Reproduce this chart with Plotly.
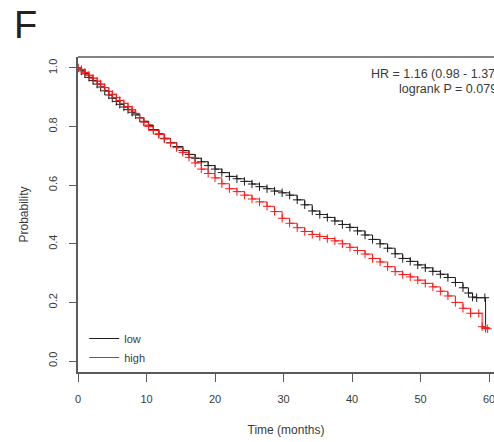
import plotly.graph_objects as go

# Kaplan-Meier estimates (time in months, survival probability)
low_time = [0, 0.5, 1.0, 1.6, 2.2, 2.8, 3.3, 3.9, 4.5, 5.0, 5.6, 6.1, 6.7, 7.3, 7.9, 8.4,
            9.0, 9.6, 10.3, 11.0, 11.8, 12.6, 13.5, 14.4, 15.3, 16.2, 17.1, 18.0, 19.0,
            20.0, 21.0, 22.1, 23.2, 24.3, 25.4, 26.5, 27.6, 28.7, 29.8, 30.9, 32.0, 33.1,
            34.2, 35.3, 36.4, 37.5, 38.6, 39.7, 40.8, 41.9, 43.0, 44.1, 45.2, 46.3, 47.4,
            48.5, 49.6, 50.7, 51.8, 52.9, 54.0, 55.1, 56.2, 57.0, 57.6, 58.2, 59.4, 59.5]
low_prob = [1.0, 0.99, 0.98, 0.968, 0.957, 0.945, 0.935, 0.922, 0.908, 0.897, 0.886, 0.876,
            0.867, 0.858, 0.849, 0.840, 0.830, 0.818, 0.805, 0.790, 0.775, 0.760, 0.745,
            0.732, 0.718, 0.705, 0.692, 0.680, 0.667, 0.655, 0.643, 0.630, 0.622, 0.613,
            0.604, 0.595, 0.588, 0.580, 0.574, 0.566, 0.550, 0.533, 0.512, 0.500, 0.490,
            0.478, 0.466, 0.456, 0.444, 0.430, 0.415, 0.400, 0.385, 0.366, 0.350, 0.340,
            0.328, 0.318, 0.306, 0.296, 0.285, 0.268, 0.250, 0.232, 0.218, 0.216, 0.216,
            0.113]

high_time = [0, 0.5, 1.0, 1.6, 2.2, 2.8, 3.3, 3.9, 4.5, 5.0, 5.6, 6.1, 6.7, 7.3, 7.9, 8.4,
             9.0, 9.6, 10.3, 11.0, 11.8, 12.6, 13.5, 14.4, 15.3, 16.2, 17.1, 18.0, 19.0,
             20.0, 21.0, 22.1, 23.2, 24.3, 25.4, 26.5, 27.6, 28.7, 29.8, 30.9, 32.0, 33.1,
             34.2, 35.3, 36.4, 37.5, 38.6, 39.7, 40.8, 41.9, 43.0, 44.1, 45.2, 46.3, 47.4,
             48.5, 49.6, 50.7, 51.8, 52.9, 54.0, 55.1, 56.2, 57.3, 58.5, 59.0, 59.5, 59.8]
high_prob = [1.0, 0.995, 0.985, 0.975, 0.965, 0.955, 0.945, 0.933, 0.920, 0.910, 0.899,
             0.889, 0.879, 0.868, 0.857, 0.845, 0.830, 0.815, 0.800, 0.787, 0.773, 0.758,
             0.744, 0.728, 0.712, 0.695, 0.676, 0.655, 0.640, 0.625, 0.605, 0.588, 0.578,
             0.566, 0.553, 0.543, 0.528, 0.510, 0.487, 0.470, 0.455, 0.442, 0.432, 0.425,
             0.418, 0.410, 0.400, 0.388, 0.377, 0.365, 0.350, 0.338, 0.322, 0.305, 0.295,
             0.287, 0.276, 0.265, 0.253, 0.238, 0.222, 0.200, 0.180, 0.163, 0.163, 0.117,
             0.112, 0.110]

x_ticks = [0, 10, 20, 30, 40, 50, 60]
y_ticks = [0.0, 0.2, 0.4, 0.6, 0.8, 1.0]

groups = [("low", low_time, low_prob, "#1e1e1e"),
          ("high", high_time, high_prob, "#ff1a1a")]

AXIS_COLOR = "#5a5a5a"
TEXT_COLOR = "#3a3a3a"
FONT = "Liberation Sans, Arial, sans-serif"

fig = go.Figure()

for name, t, p, color in groups:
    # step curve with censoring marks
    fig.add_trace(go.Scatter(
        x=t, y=p,
        mode="lines+markers",
        line=dict(shape="hv", color=color, width=1),
        marker=dict(symbol="cross-thin", size=6, line=dict(color=color, width=1)),
        showlegend=False,
        hoverinfo="skip",
    ))
    # legend entry (line only)
    fig.add_trace(go.Scatter(
        x=[None], y=[None],
        mode="lines",
        line=dict(color=color, width=1),
        name=name,
    ))

fig.update_xaxes(
    range=[0, 60.73], automargin=False,
    tickvals=x_ticks,
    ticks="outside", ticklen=8, tickwidth=1.2, tickcolor=AXIS_COLOR,
    showline=True, linecolor=AXIS_COLOR, linewidth=1.5,
    showgrid=False, zeroline=False,
    tickfont=dict(family=FONT, size=11, color=TEXT_COLOR),
    ticklabelstandoff=8, ticklabeloverflow="allow",
    title=dict(text="Time (months)", standoff=22,
               font=dict(family=FONT, size=12, color=TEXT_COLOR)),
)
fig.update_yaxes(
    range=[-0.0375, 1.0375], automargin=False,
    tickvals=y_ticks, tickformat=".1f",
    ticks="outside", ticklen=7, tickwidth=1.2, tickcolor=AXIS_COLOR,
    showline=True, linecolor=AXIS_COLOR, linewidth=1.5,
    showgrid=False, zeroline=False,
    tickangle=-90,
    tickfont=dict(family=FONT, size=11, color=TEXT_COLOR),
    ticklabelstandoff=8,
    title=dict(text="Probability", standoff=16,
               font=dict(family=FONT, size=12, color=TEXT_COLOR)),
)

# top edge of the plotting box
fig.add_shape(type="line", xref="paper", yref="paper", x0=0, x1=1, y0=1, y1=1,
              line=dict(color=AXIS_COLOR, width=1.5))

fig.add_annotation(text="HR = 1.16 (0.98 - 1.37)", xref="paper", yref="paper",
                   x=1.016, y=0.947, xanchor="right", yanchor="middle", showarrow=False,
                   font=dict(family=FONT, size=12.5, color=TEXT_COLOR))
fig.add_annotation(text="logrank P = 0.079", xref="paper", yref="paper",
                   x=1.012, y=0.9, xanchor="right", yanchor="middle", showarrow=False,
                   font=dict(family=FONT, size=12.5, color=TEXT_COLOR))
fig.add_annotation(text="F", xref="paper", yref="paper",
                   x=-0.158, y=1.1, xanchor="left", yanchor="middle", showarrow=False,
                   font=dict(family=FONT, size=38, color="#222222"))

fig.update_layout(
    width=494, height=442,
    margin=dict(l=78, r=0, t=57, b=70),
    paper_bgcolor="white", plot_bgcolor="white",
    legend=dict(x=0.015, y=0.0, xanchor="left", yanchor="bottom",
                bgcolor="rgba(0,0,0,0)", tracegroupgap=0, itemwidth=30,
                font=dict(family=FONT, size=11, color=TEXT_COLOR)),
)

# drop the default page margin so the figure sits at the window's corner
fig.write_html("out.html", config={"displayModeBar": False},
               post_script="document.body.style.margin = '0';")
